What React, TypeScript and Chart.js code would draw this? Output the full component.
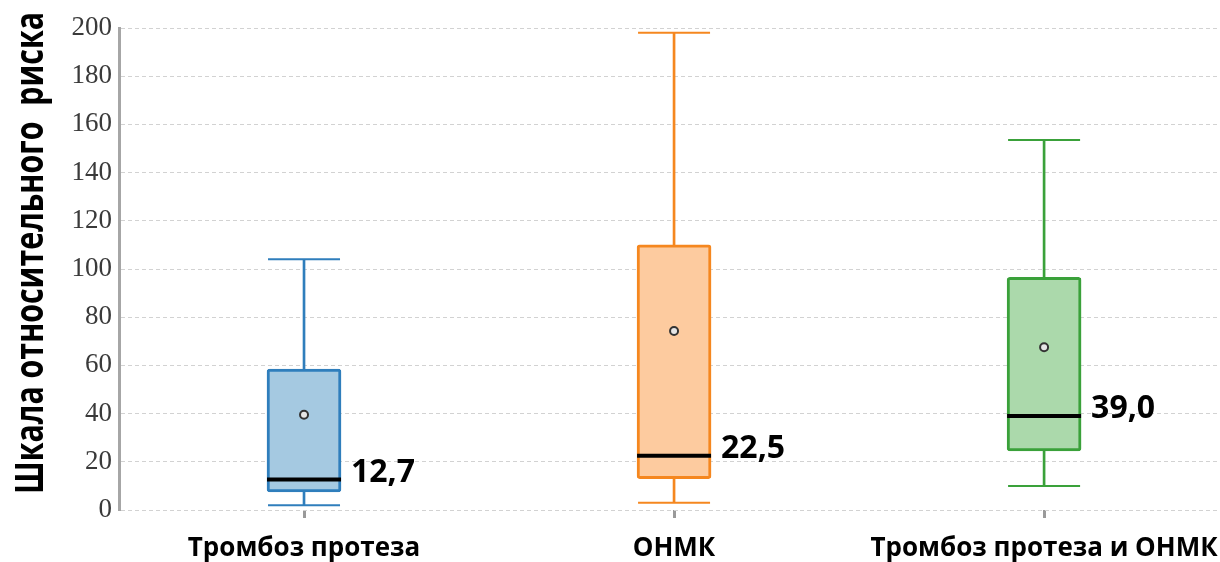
import React, { useEffect, useRef } from "react";
import { Chart, registerables } from "chart.js";

Chart.register(...registerables);

// ---- data ----
const categories = ["Тромбоз протеза", "ОНМК", "Тромбоз протеза и ОНМК"];
const whiskerLow = [2, 3, 10];
const q1 = [7.5, 13, 24.5];
const medians = [12.7, 22.5, 39.0];
const q3 = [58.5, 110, 96.5];
const whiskerHigh = [104, 198, 153.5];
const means = [39.5, 74.3, 67.5];
const medianLabels = ["12,7", "22,5", "39,0"];
const yMin = 0;
const yMax = 200;
const yStep = 20;
const yTitle = "Шкала относительного  риска";

const strokeColors = ["#2f7ebc", "#f5871f", "#3aa13a"];
const fillColors = ["#a5c9e1", "#fdcb9f", "#abd9ab"];

const annotationPlugin = {
  id: "boxAnnotations",
  afterDatasetsDraw(chart: any) {
    const { ctx } = chart;
    const x = chart.scales.x;
    const y = chart.scales.y;
    ctx.save();
    ctx.font = "bold 32px 'Open Sans'";
    ctx.fillStyle = "#000";
    ctx.textAlign = "left";
    ctx.textBaseline = "middle";
    medians.forEach((m, i) => {
      ctx.fillText(medianLabels[i], x.getPixelForValue(i) + 47, y.getPixelForValue(m) - 7);
    });
    ctx.restore();
  },
  afterDraw(chart: any) {
    const { ctx } = chart;
    ctx.save();
    ctx.translate(43, 253);
    ctx.rotate(-Math.PI / 2);
    ctx.font = "bold 40px 'Open Sans'";
    ctx.fillStyle = "#000";
    ctx.textAlign = "center";
    ctx.textBaseline = "alphabetic";
    ctx.fillText(yTitle, 0, 0, 482);
    ctx.restore();
  },
};

export default function App() {
  const canvasRef = useRef<HTMLCanvasElement | null>(null);

  useEffect(() => {
    if (!canvasRef.current) return;
    const idx = categories.map((_, i) => i);
    const capPoints: any[] = [];
    const capColors: string[] = [];
    idx.forEach((i) => {
      capPoints.push({ x: i, y: whiskerLow[i] });
      capColors.push(strokeColors[i]);
      capPoints.push({ x: i, y: whiskerHigh[i] });
      capColors.push(strokeColors[i]);
    });

    const chart = new Chart(canvasRef.current, {
      type: "bar",
      data: {
        datasets: [
          {
            type: "bar",
            label: "whisker",
            data: idx.map((i) => ({ x: i, y: [whiskerLow[i], whiskerHigh[i]] })),
            backgroundColor: strokeColors,
            borderWidth: 0,
            barThickness: 2,
            grouped: false,
            order: 5,
          } as any,
          {
            type: "bar",
            label: "box",
            data: idx.map((i) => ({ x: i, y: [q1[i], q3[i]] })),
            backgroundColor: fillColors,
            borderColor: strokeColors,
            borderWidth: 3,
            borderSkipped: false,
            borderRadius: 3,
            barThickness: 74,
            grouped: false,
            order: 4,
          } as any,
          {
            type: "scatter",
            label: "caps",
            data: capPoints,
            pointStyle: "line",
            pointRadius: 36,
            borderWidth: 2,
            borderColor: capColors,
            order: 3,
          } as any,
          {
            type: "scatter",
            label: "median",
            data: idx.map((i) => ({ x: i, y: medians[i] })),
            pointStyle: "line",
            pointRadius: 37,
            borderWidth: 4,
            borderColor: "#000",
            order: 2,
          } as any,
          {
            type: "scatter",
            label: "mean",
            data: idx.map((i) => ({ x: i, y: means[i] })),
            pointStyle: "circle",
            pointRadius: 4,
            borderWidth: 2,
            borderColor: "#333",
            backgroundColor: "#e6e6e6",
            order: 1,
          } as any,
        ],
      },
      options: {
        animation: false,
        responsive: true,
        maintainAspectRatio: false,
        layout: { autoPadding: false, padding: { top: 28, right: 2, left: 0, bottom: 0 } },
        plugins: {
          legend: { display: false },
          tooltip: { enabled: false },
        },
        scales: {
          x: {
            type: "linear",
            offset: false,
            min: -0.5,
            max: 2.47,
            afterBuildTicks: (scale: any) => {
              scale.ticks = categories.map((_, i) => ({ value: i }));
            },
            afterFit: (scale: any) => {
              scale.height = 52;
              scale.paddingLeft = 0;
              scale.paddingRight = 0;
            },
            grid: {
              offset: false,
              drawOnChartArea: false,
              drawTicks: true,
              tickLength: 8,
              lineWidth: 3,
              color: "#9a9a9a",
            },
            border: { display: false },
            ticks: {
              padding: 15,
              color: "#000",
              maxRotation: 0,
              autoSkip: false,
              font: { family: "'Open Sans'", weight: "bold", size: 26 },
              callback: (v: any) => categories[v] ?? "",
            },
          },
          y: {
            type: "linear",
            min: yMin,
            max: yMax,
            afterFit: (scale: any) => {
              scale.width = 119;
              scale.paddingTop = 0;
              scale.paddingBottom = 0;
            },
            grid: {
              drawTicks: false,
              color: "#d2d2d2",
              lineWidth: 1,
            },
            border: { display: true, color: "#a6a6a6", width: 3, dash: [4, 3] },
            ticks: {
              stepSize: yStep,
              padding: 7,
              color: "#3a3a3a",
              font: { family: "'Liberation Serif'", size: 27 },
            },
          },
        },
      } as any,
      plugins: [annotationPlugin],
    });
    return () => chart.destroy();
  }, []);

  return (
    <div style={{ position: "absolute", left: 0, top: 0, width: 1220, height: 562, background: "#fff" }}>
      <canvas ref={canvasRef} />
    </div>
  );
}
